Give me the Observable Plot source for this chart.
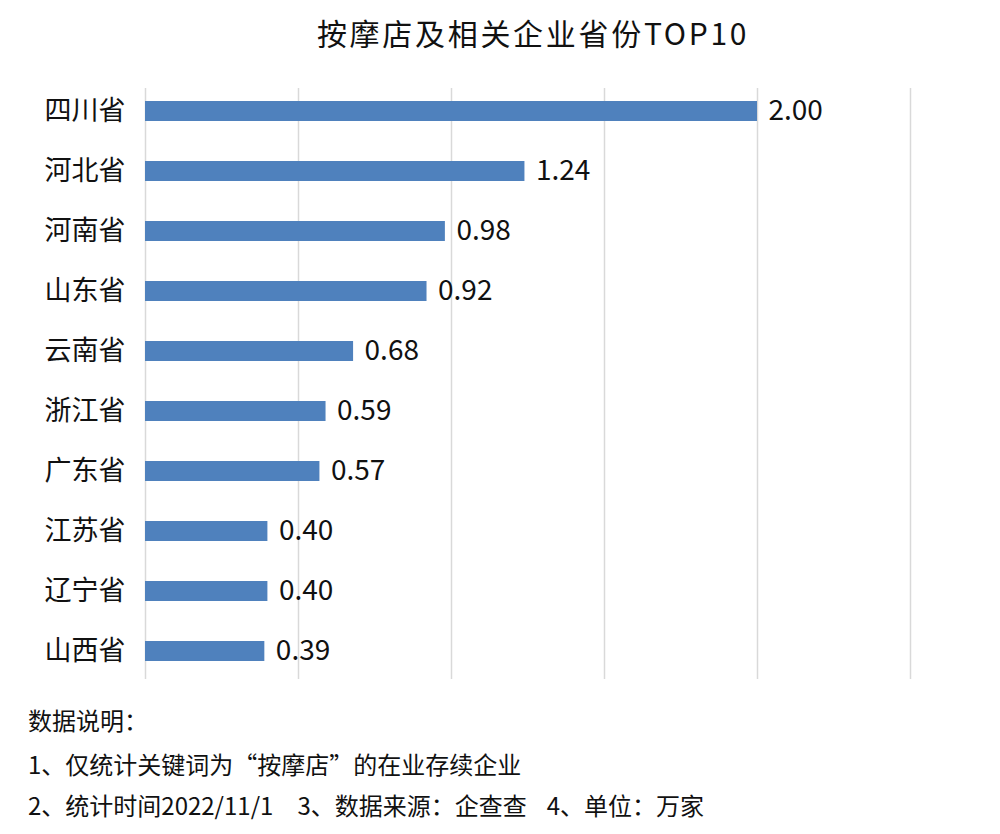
<!DOCTYPE html>
<html>
<head>
<meta charset="utf-8">
<script src="https://cdn.jsdelivr.net/npm/d3@7"></script>
<script src="https://cdn.jsdelivr.net/npm/@observablehq/plot@0.6"></script>
<style>
  html, body { margin: 0; padding: 0; background: #fff; }
  #wrap { position: relative; width: 1000px; height: 834px; font-family: "Noto Sans CJK SC", "Noto Sans", sans-serif; color: #111; overflow: hidden; }
  #title { position: absolute; top: 11px; left: 0; width: 1066px; text-align: center; font-size: 30px; letter-spacing: 2.7px; line-height: 42px; }
  #chart { position: absolute; top: 81px; left: 0; }
  .note { position: absolute; left: 28px; font-size: 24px; line-height: 30px; white-space: pre; }
</style>
</head>
<body>
<div id="wrap">
  <div id="title">按摩店及相关企业省份TOP10</div>
  <div id="chart"></div>
  <div class="note" id="n0" style="top:705px">数据说明：</div>
  <div class="note" id="n1" style="top:749px">1、仅统计关键词为“按摩店”的在业存续企业</div>
  <div class="note" id="n2" style="top:790px">2、统计时间2022/11/1<span style="margin-left:24px">3、数据来源：企查查</span><span style="margin-left:20px">4、单位：万家</span></div>
</div>
<script>
const provinces = ["四川省", "河北省", "河南省", "山东省", "云南省", "浙江省", "广东省", "江苏省", "辽宁省", "山西省"];
const values = [2.00, 1.24, 0.98, 0.92, 0.68, 0.59, 0.57, 0.40, 0.40, 0.39];
const xTicks = [0, 0.5, 1.0, 1.5, 2.0, 2.5];

const data = provinces.map((p, i) => ({province: p, value: values[i]}));

const chart = Plot.plot({
  width: 1000,
  height: 600,
  marginTop: 0,
  marginBottom: 0,
  marginLeft: 145,
  marginRight: 90,
  style: {fontFamily: "\"Noto Sans CJK SC\", sans-serif", color: "#111", background: "#fff"},
  x: {domain: [0, 2.5], ticks: xTicks, axis: null},
  y: {domain: provinces, paddingInner: 0.66, paddingOuter: 0.33, label: null},
  marks: [
    Plot.gridX(xTicks, {stroke: "#d9d9d9", strokeOpacity: 1, strokeWidth: 1.5, insetTop: 7, insetBottom: 2}),
    Plot.barX(data, {x: "value", y: "province", fill: "#4f81bd"}),
    Plot.text(data, {x: "value", y: "province", text: d => d.value.toFixed(2), textAnchor: "start", dx: 11, fontSize: 28, fill: "#111"}),
    Plot.axisY({tickSize: 0, tickPadding: 20, fontSize: 27, label: null, fill: "#111"})
  ]
});
document.getElementById("chart").appendChild(chart);
</script>
</body>
</html>
